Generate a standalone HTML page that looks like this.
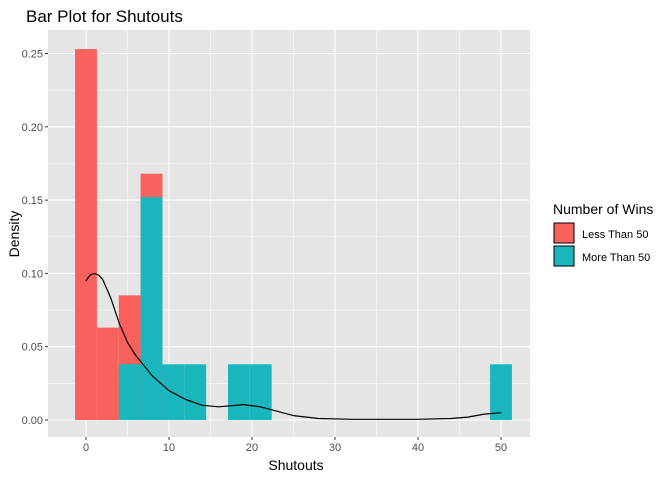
<!DOCTYPE html>
<html><head><meta charset="utf-8"><style>
body{margin:0;background:#fff;}
text{font-family:"Liberation Sans",Arial,sans-serif;}
</style></head><body>
<svg id="c" width="672" height="480" xmlns="http://www.w3.org/2000/svg">
<text x="26" y="22" font-size="17" fill="#000">Bar Plot for Shutouts</text>
<rect x="48" y="30" width="482" height="407" fill="#e5e5e5"/>
<g id="grid"></g><g id="bars"></g><g id="curve"></g><g id="axes"></g>
<text x="296" y="470" font-size="14" text-anchor="middle">Shutouts</text>
<text transform="translate(19,234) rotate(-90)" font-size="14" text-anchor="middle">Density</text>
<g>
<text x="553" y="214" font-size="14">Number of Wins</text>
<rect x="554" y="223" width="20" height="20" fill="#f8615c" stroke="#000" stroke-width="1"/>
<text x="582" y="238" font-size="11">Less Than 50</text>
<rect x="554" y="246" width="20" height="20" fill="#19b7bd" stroke="#000" stroke-width="1"/>
<text x="582" y="261" font-size="11">More Than 50</text>
</g>
</svg>
<script>
const binCenters=[0,1,2,3,4,5,6,7,8,19].map(k=>k*50/19);
const redBins=[0,1,2,3];
const redValues=[0.253,0.063,0.085,0.168];
const tealBins=[2,3,4,5,7,8,19];
const tealValues=[0.038,0.152,0.038,0.038,0.038,0.038,0.038];
const densX=[0,0.5,1,1.5,2,3,4,5,6,7,8,10,12,14,16,19,21,23,25,28,32,36,40,44,46,48,50];
const densY=[0.095,0.099,0.100,0.099,0.096,0.083,0.066,0.053,0.044,0.037,0.030,0.020,0.014,0.010,0.009,0.0105,0.009,0.006,0.003,0.001,0.0005,0.0005,0.0005,0.001,0.002,0.004,0.005];
const xTicks=[0,10,20,30,40,50];
const yTicks=[0,0.05,0.10,0.15,0.20,0.25];
const yTickLabels=["0.00","0.05","0.10","0.15","0.20","0.25"];
const NS="http://www.w3.org/2000/svg";
const X=v=>86+v*8.3, Y=v=>420-v*1466;
const bw=50/19;
function mk(p,t,a){const e=document.createElementNS(NS,t);for(const k in a)e.setAttribute(k,a[k]);document.getElementById(p).appendChild(e);return e;}
for(let i=0;i<yTicks.length;i++){const v=yTicks[i];
 if(i<yTicks.length-1){const m=mk('grid','line',{x1:48,x2:530,y1:Y(v+0.025),y2:Y(v+0.025),stroke:'#fff','stroke-width':0.5});}
 const g=mk('grid','line',{x1:48,x2:530,y1:Y(v),y2:Y(v),stroke:'#fff','stroke-width':1.1});
 const t=mk('axes','text',{x:43,y:Y(v)+4,'font-size':11,'text-anchor':'end',fill:'#4d4d4d'});t.textContent=yTickLabels[i];
 
 mk('axes','line',{x1:45,x2:48,y1:Y(v),y2:Y(v),stroke:'#333'});}
for(let i=0;i<xTicks.length;i++){const v=xTicks[i];
 const m=mk('grid','line',{x1:X(v+5),x2:X(v+5),y1:30,y2:437,stroke:'#fff','stroke-width':0.5});
 const g=mk('grid','line',{x1:X(v),x2:X(v),y1:30,y2:437,stroke:'#fff','stroke-width':1.1});
 const t=mk('axes','text',{x:X(v),y:451,'font-size':11,'text-anchor':'middle',fill:'#4d4d4d'});t.textContent=String(v);
 
 mk('axes','line',{x1:X(v),x2:X(v),y1:437,y2:440,stroke:'#333'});}
redBins.forEach((b,i)=>{const c=b*bw;const r=mk('bars','rect',{x:X(c-bw/2),width:X(c+bw/2)-X(c-bw/2),y:Y(redValues[i]),height:Y(0)-Y(redValues[i]),fill:'#f8615c'});
 });
tealBins.forEach((b,i)=>{const c=b*bw;const r=mk('bars','rect',{x:X(c-bw/2),width:X(c+bw/2)-X(c-bw/2),y:Y(tealValues[i]),height:Y(0)-Y(tealValues[i]),fill:'#19b7bd'});
 });
const d=densX.map((x,i)=>(i?'L':'M')+X(x).toFixed(1)+','+Y(densY[i]).toFixed(1)).join(' ');
const p=mk('curve','path',{d:d,fill:'none',stroke:'#000','stroke-width':1.2,'stroke-linejoin':'round','stroke-linecap':'round'});

</script>
</body></html>
